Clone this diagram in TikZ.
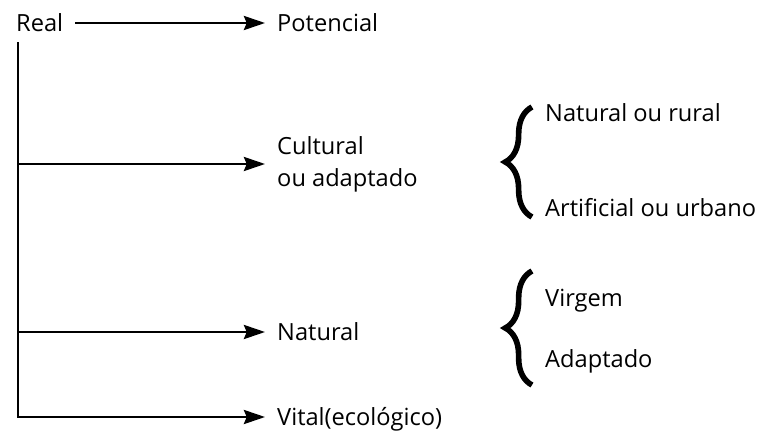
\documentclass[tikz,border=0pt]{standalone}
\usepackage{fontspec}
\setmainfont{Open Sans}
\usetikzlibrary{arrows.meta, decorations.pathreplacing}
\begin{document}
\begin{tikzpicture}[x=0.025cm, y=-0.025cm, font=\fontsize{16.8}{22.7}\selectfont,
  lbl/.style={anchor=west, align=left, inner xsep=8.5pt, inner ysep=0pt},
  oneline/.style={lbl, text height=12pt, text depth=0pt},
  arr/.style={-{Stealth[length=15pt, width=10pt, inset=2pt]}, line width=1.8pt},
  bigbrace/.style={decorate, decoration={brace, amplitude=19pt}, line width=4pt}]
\useasboundingbox (0,0) rectangle (769,434);
\node[oneline] (real) at (4,23) {Real};
\node[oneline] (potencial) at (265,23) {Potencial};
\node[lbl] (cultural) at (265,164) {Cultural\\ou adaptado};
\node[oneline] (natural) at (265,332) {Natural};
\node[oneline] (vital) at (265,417) {Vital(ecológico)};
\coordinate (trunk) at (18,42);
\draw[arr] (real) -- (potencial);
\draw[arr] (trunk) |- (vital.west);
\foreach \n in {cultural,natural}{\draw[arr] (\n.west -| trunk) -- (\n.west);}
\draw[bigbrace] (532,217) -- (532,107);
\draw[bigbrace] (532,385) -- (532,271);
\node[oneline] (rural) at (533,113.5) {Natural ou rural};
\node[oneline] (urbano) at (533,208.5) {Artificial ou urbano};
\node[oneline] (virgem) at (533,298.5) {Virgem};
\node[oneline] (adaptado) at (533,359.5) {Adaptado};
\end{tikzpicture}
\end{document}
